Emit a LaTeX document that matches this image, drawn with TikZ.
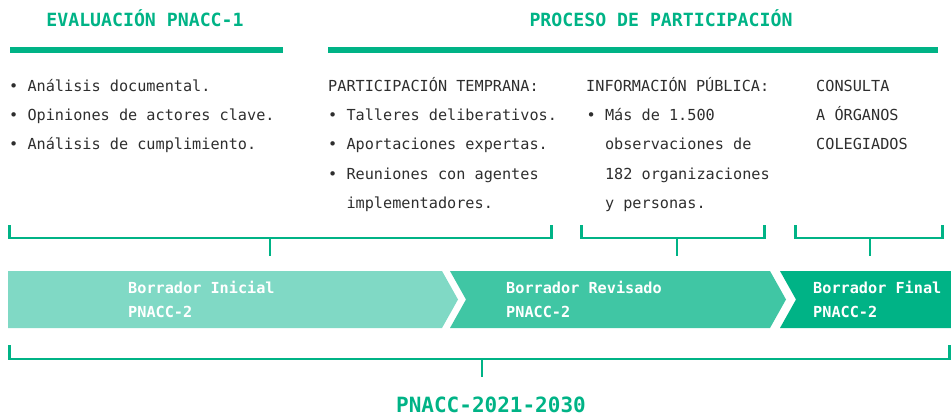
\documentclass[tikz,border=0pt]{standalone}
\usepackage{fontspec}
\setmainfont{DejaVu Sans Mono}
\setmonofont{DejaVu Sans Mono}
\definecolor{brand}{HTML}{00B386}
\definecolor{barA}{HTML}{80D9C5}
\definecolor{barB}{HTML}{40C6A4}
\definecolor{barC}{HTML}{00B386}
\definecolor{ink}{HTML}{2E2E2E}
\tikzset{
  body/.style={anchor=base west, inner sep=0pt, text=ink, font=\fontsize{15.2}{18}\selectfont},
  head/.style={anchor=base, inner sep=0pt, text=brand, font=\bfseries\fontsize{18.2}{22}\selectfont},
  barlbl/.style={anchor=base west, inner sep=0pt, text=white, font=\bfseries\fontsize{15.2}{18}\selectfont},
  brk/.style={draw=brand, line width=2.6pt, line cap=butt, line join=miter},
  hbar/.style={fill=brand, draw=none}
}
\begin{document}
\begin{tikzpicture}[x=1pt,y=-1pt]
\useasboundingbox (0,0) rectangle (951,417);
% headers
\node[head] (h1) at (145,27) {EVALUACIÓN PNACC-1};
\node[head] (h2) at (661,27) {PROCESO DE PARTICIPACIÓN};
\fill[hbar] (10,47) rectangle (283,53);
\fill[hbar] (328,47) rectangle (938,53);
% column 1
\node[body] (c1a) at (9,92) {• Análisis documental.};
\node[body] (c1b) at (9,121) {• Opiniones de actores clave.};
\node[body] (c1c) at (9,150) {• Análisis de cumplimiento.};
% column 2
\node[body] (c2h) at (328,92) {PARTICIPACIÓN TEMPRANA:};
\node[body] (c2a) at (328,121) {• Talleres deliberativos.};
\node[body] (c2b) at (328,150) {• Aportaciones expertas.};
\node[body] (c2c) at (328,179) {• Reuniones con agentes};
\node[body] (c2d) at (346.3,208) {implementadores.};
% column 3
\node[body] (c3h) at (586,92) {INFORMACIÓN PÚBLICA:};
\node[body] (c3a) at (586.5,121) {• Más de 1.500};
\node[body] (c3b) at (604.8,150) {observaciones de};
\node[body] (c3c) at (604.8,179) {182 organizaciones};
\node[body] (c3d) at (604.8,208) {y personas.};
% column 4
\node[body] (c4a) at (816,92) {CONSULTA};
\node[body] (c4b) at (816,121) {A ÓRGANOS};
\node[body] (c4c) at (816,150) {COLEGIADOS};
% upper brackets
\draw[brk] (9.3,225) -- (9.3,238) -- (551.7,238) -- (551.7,225);
\draw[brk] (270,238) -- (270,256);
\draw[brk] (581.3,225) -- (581.3,238) -- (764.7,238) -- (764.7,225);
\draw[brk] (677,238) -- (677,256);
\draw[brk] (795.3,225) -- (795.3,238) -- (942.7,238) -- (942.7,225);
\draw[brk] (870,238) -- (870,256);
% chevron bars
\fill[barA] (8,271) -- (442,271) -- (458,299.5) -- (442,328) -- (8,328) -- cycle;
\fill[barB] (450,271) -- (770,271) -- (786,299.5) -- (770,328) -- (450,328) -- (466,299.5) -- cycle;
\fill[barC] (780,271) -- (951,271) -- (951,328) -- (780,328) -- (796,299.5) -- cycle;
\node[barlbl] (b1a) at (128,293) {Borrador Inicial};
\node[barlbl] (b1b) at (128,317) {PNACC-2};
\node[barlbl] (b2a) at (506,293) {Borrador Revisado};
\node[barlbl] (b2b) at (506,317) {PNACC-2};
\node[barlbl] (b3a) at (813,293) {Borrador Final};
\node[barlbl] (b3b) at (813,317) {PNACC-2};
% bottom bracket
\draw[brk] (9.3,345) -- (9.3,359) -- (949.7,359) -- (949.7,345);
\draw[brk] (482,359) -- (482,377);
\node[anchor=base, inner sep=0pt, text=brand, font=\bfseries\fontsize{21}{25}\selectfont] (tot) at (491,412) {PNACC-2021-2030};
\end{tikzpicture}
\end{document}
